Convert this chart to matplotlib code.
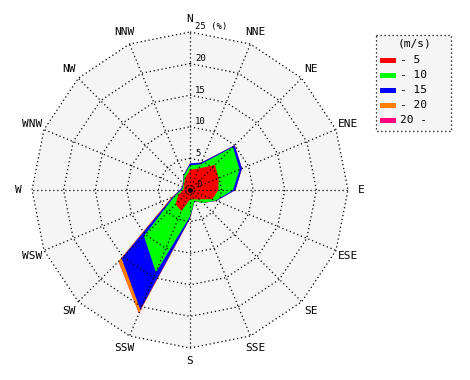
import numpy as np
import matplotlib
matplotlib.use("Agg")
import matplotlib.pyplot as plt
from matplotlib.patches import Rectangle

# ---- data (frequency in %, per speed class, per direction) ----
directions = ["N", "NNE", "NE", "ENE", "E", "ESE", "SE", "SSE",
              "S", "SSW", "SW", "WSW", "W", "WNW", "NW", "NNW"]
speed_labels = ["- 5", "- 10", "- 15", "- 20", "20 -"]
freq_0_5   = [3.2, 3.7, 5.6, 4.9, 4.5, 3.8, 2.1, 1.6, 1.5, 3.6, 3.2, 2.0, 1.1, 1.0, 1.3, 2.0]
freq_5_10  = [0.7, 0.7, 4.0, 3.6, 2.3, 0.6, 0.8, 0.3, 2.7, 10.5, 7.1, 0.7, 0.3, 0.2, 0.2, 0.5]
freq_10_15 = [0.3, 0.3, 0.4, 0.4, 0.4, 0.1, 0.0, 0.0, 0.3, 6.4, 5.0, 0.3, 0.2, 0.1, 0.1, 0.1]
freq_15_20 = [0.0, 0.0, 0.0, 0.0, 0.0, 0.0, 0.0, 0.0, 0.05, 0.6, 0.7, 0.2, 0.0, 0.0, 0.0, 0.0]
freq_20_up = [0.0] * 16
rings = [5, 10, 15, 20, 25]

colors = ["#ff0000", "#00ff00", "#0000ff", "#ff8000", "#ff0080"]

W, H = 470, 380
fig = plt.figure(figsize=(W / 100, H / 100), dpi=100)
s = 6.32           # px per percent
cx, cy = 190, 190  # center in px (from left / top)
ax = fig.add_axes([0, 0, 1, 1])
ax.set_xlim(-cx / s, (W - cx) / s)
ax.set_ylim(-(H - cy) / s, cy / s)
ax.axis("off")

theta = np.deg2rad(np.arange(16) * 22.5)
sx, sy = np.sin(theta), np.cos(theta)

def poly(r):
    r = np.asarray(r, dtype=float)
    return np.append(r * sx, r[0] * sx[0]), np.append(r * sy, r[0] * sy[0])

# background inside outer ring
bx, by = poly([rings[-1]] * 16)
ax.fill(bx, by, color="#f5f5f5", lw=0, zorder=0)

# stacked polygons
series = [freq_0_5, freq_5_10, freq_10_15, freq_15_20, freq_20_up]
cum = np.cumsum(np.array(series), axis=0)
for k in range(len(series) - 1, -1, -1):
    px, py = poly(cum[k])
    ax.fill(px, py, color=colors[k], lw=0, zorder=1 + (len(series) - k))

# grid
gkw = dict(color="black", lw=0.9, linestyle=(0, (1, 2.2)), zorder=10)
for r in rings:
    gx, gy = poly([r] * 16)
    ax.plot(gx, gy, **gkw)
for i in range(16):
    ax.plot([0, rings[-1] * sx[i]], [0, rings[-1] * sy[i]], **gkw)

ax.plot([0], [0], "o", color="black", ms=2.5, zorder=11)

# ring labels
fnt = "DejaVu Sans Mono"
ax.text(1.0, 0.15, "0", fontsize=6.5, family=fnt, ha="left", va="bottom", zorder=12)
for r in rings:
    lab = f"{r}" if r != rings[-1] else f"{r} (%)"
    ax.text(0.8, r + 0.1, lab, fontsize=6.5, family=fnt, ha="left", va="bottom", zorder=12)

# direction labels
rl = 27.1
for i, d in enumerate(directions):
    ax.text(rl * sx[i], rl * sy[i], d, fontsize=8, family=fnt,
            ha="center", va="center")

# legend
lax = fig.add_axes([0, 0, 1, 1])
lax.set_xlim(0, W)
lax.set_ylim(H, 0)
lax.axis("off")
lax.add_patch(Rectangle((375.5, 35), 75, 96, facecolor="#f5f5f5",
                        edgecolor="black", lw=0.9, linestyle=(0, (1, 2.2))))
lax.text(414, 44, "(m/s)", fontsize=8, family=fnt, ha="center", va="center")
for k, lab in enumerate(speed_labels):
    y = 60 + k * 15
    lax.add_patch(Rectangle((380, y - 2.5), 16, 5, facecolor=colors[k], lw=0))
    lax.text(400, y, lab, fontsize=8, family=fnt, ha="left", va="center")

fig.savefig("out.png", dpi=100, facecolor="white")
